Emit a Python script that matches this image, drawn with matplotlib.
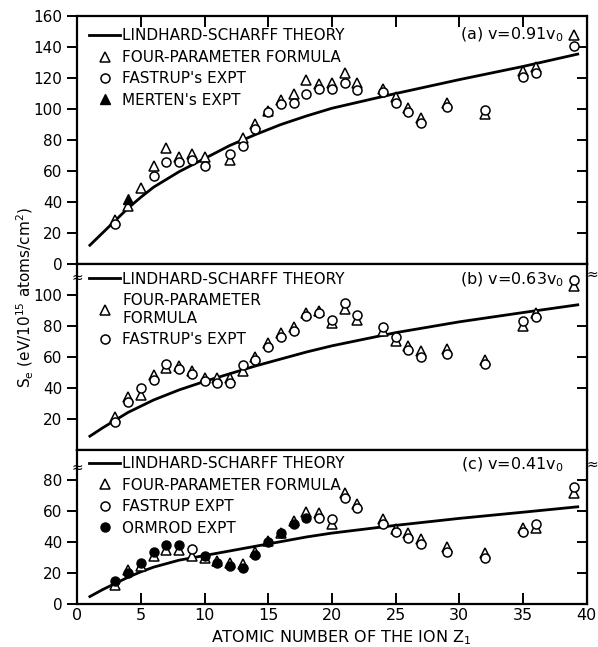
import matplotlib.pyplot as plt
import numpy as np

# ---- panel (a) v = 0.91 v0 ----
ls_z = [1, 2, 3, 4, 5, 6, 8, 10, 12, 14, 16, 18, 20, 25, 30, 35, 39.3]
ls_a = [12, 20, 28, 36, 43, 49.5, 59.5, 68, 76.5, 83.5, 90, 95.5, 100.5, 110, 119, 127.5, 135.5]

z_four_a = [3, 4, 5, 6, 7, 8, 9, 10, 12, 13, 14, 15, 16, 17, 18, 19, 20, 21, 22,
            24, 25, 26, 27, 29, 32, 35, 36, 39]
four_a = [28, 37.6, 49, 63, 75, 69, 71, 69, 67, 81, 90.5, 99, 106, 110, 118.5, 116,
          117, 123, 116.5, 113, 107.5, 100.5, 94, 104, 96.5, 124.5, 127, 147.6]
z_fast_a = [3, 6, 7, 8, 9, 10, 12, 13, 14, 15, 16, 17, 18, 19, 20, 21, 22, 24, 25,
            26, 27, 29, 32, 35, 36, 39]
fast_a = [26, 56.5, 66, 66, 67, 63.5, 71, 76, 87, 98, 103, 104, 110, 112.7, 113,
          117, 112, 111, 104, 98, 91, 101.5, 99.7, 120.5, 123, 141]
z_mert = [4]
mert = [42]

# ---- panel (b) v = 0.63 v0 ----
ls_b = [8.6, 14, 19, 24, 28, 32, 38.5, 44, 49, 54, 58.5, 63, 67, 75.5, 82.5, 88.5, 93.5]
z_b = [3, 4, 5, 6, 7, 8, 9, 10, 11, 12, 13, 14, 15, 16, 17, 18, 19, 20, 21, 22,
       24, 25, 26, 27, 29, 32, 35, 36, 39]
four_b = [21, 34, 35, 48, 52.5, 54, 51, 46.5, 46, 46, 50.5, 59.6, 68.7, 75, 79, 88,
          89.5, 81.6, 90.7, 83.5, 76.4, 70, 66.7, 63.5, 65, 58, 80, 88, 105.6]
fast_b = [18, 31, 39.5, 45, 55, 52, 49, 44, 43, 43, 54.4, 57.6, 66, 72.5, 76.4, 86,
          88, 84, 94.6, 86.8, 79, 72.5, 64, 60, 62, 55, 83, 85.5, 109.5]

# ---- panel (c) v = 0.41 v0 ----
ls_c = [5, 9.5, 13.5, 17.5, 21, 24, 28.5, 31.5, 34.5, 37.5, 40.5, 43.5, 46, 51, 55.5, 59.5, 63]
z_four_c = [3, 4, 5, 6, 7, 8, 9, 10, 11, 12, 13, 14, 15, 16, 17, 18, 19, 20, 21, 22,
            24, 25, 26, 27, 29, 32, 35, 36, 39]
four_c = [12.5, 22, 24.5, 31, 35, 35, 31.5, 29.7, 28, 27, 26, 34, 41, 46, 54, 59.4,
          58.7, 52, 72, 64.5, 54.8, 48.5, 46, 42, 37, 33, 49, 49, 72]
z_fast_c = [9, 19, 20, 21, 22, 24, 25, 26, 27, 29, 32, 35, 36, 39]
fast_c = [35.5, 55.5, 54.8, 68.4, 62, 51.6, 47, 43, 39, 34, 30, 46.4, 51.6, 75.5]
z_orm = [3, 4, 5, 6, 7, 8, 10, 11, 12, 13, 14, 15, 16, 17, 18]
orm = [15, 20, 27, 33.5, 38, 38, 31, 27, 25, 23.7, 31.6, 40, 46, 52, 55.5]

fig = plt.figure(figsize=(5.98, 6.47), dpi=100)
gs = fig.add_gridspec(3, 1, height_ratios=[160, 120, 100], hspace=0,
                      left=0.129, right=0.981, top=0.975, bottom=0.066)
axes = [fig.add_subplot(gs[i]) for i in range(3)]

mk = dict(linestyle='none', markersize=6.5, markeredgewidth=1.1, color='black')
tri = dict(marker='^', markerfacecolor='white', **mk)
circ = dict(marker='o', markerfacecolor='white', **mk)

ax_a, ax_b, ax_c = axes
ax_a.plot(ls_z, ls_a, color='black', lw=2, label='LINDHARD-SCHARFF THEORY')
ax_a.plot(z_four_a, four_a, label='FOUR-PARAMETER FORMULA', **tri)
ax_a.plot(z_fast_a, fast_a, label="FASTRUP's EXPT", **circ)
ax_a.plot(z_mert, mert, marker='^', linestyle='none', markersize=6.5, color='black',
          label="MERTEN's EXPT")

ax_b.plot(ls_z, ls_b, color='black', lw=2, label='LINDHARD-SCHARFF THEORY')
ax_b.plot(z_b, four_b, label='FOUR-PARAMETER\nFORMULA', **tri)
ax_b.plot(z_b, fast_b, label="FASTRUP's EXPT", **circ)

ax_c.plot(ls_z, ls_c, color='black', lw=2, label='LINDHARD-SCHARFF THEORY')
ax_c.plot(z_four_c, four_c, label='FOUR-PARAMETER FORMULA', **tri)
ax_c.plot(z_fast_c, fast_c, label='FASTRUP EXPT', **circ)
ax_c.plot(z_orm, orm, marker='o', linestyle='none', markersize=6.5, color='black',
          label='ORMROD EXPT')

ylims = [(0, 160), (0, 120), (0, 100)]
yticks = [np.arange(0, 161, 20), np.arange(20, 101, 20), np.arange(0, 81, 20)]
tags = [r'(a) v=0.91v$_0$', r'(b) v=0.63v$_0$', r'(c) v=0.41v$_0$']
leg_y = [0.975, 0.99, 0.995]
for ax, yl, yt, tag, ly in zip(axes, ylims, yticks, tags, leg_y):
    ax.set_xlim(0, 40)
    ax.set_ylim(*yl)
    ax.set_yticks(yt)
    for s in ax.spines.values():
        s.set_linewidth(1.6)
    ax.tick_params(axis='y', left=True, right=False, direction='out', length=7,
                   width=1.4, labelsize=11)
    ax.tick_params(axis='x', bottom=False, top=False, labelbottom=False)
    ax.text(0.955, 0.962, tag, transform=ax.transAxes,
            ha='right', va='top', fontsize=11.5)
    ax.legend(loc='upper left', frameon=False, fontsize=11, handlelength=2.0,
              handletextpad=0.15, labelspacing=0.42, borderaxespad=0,
              bbox_to_anchor=(0.012, ly))
    # right-side ticks drawn inward
    twin = ax.secondary_yaxis('right')
    twin.set_yticks(yt[1:] if ax is ax_c else yt[1:-1])
    twin.tick_params(direction='in', length=7, width=1.4, labelright=False)

ax_a.tick_params(axis='x', top=True, direction='in', length=8, width=1.4)
ax_a.set_xticks(np.arange(5, 40, 5))
ax_c.set_xticks(np.arange(0, 41, 5))
ax_c.tick_params(axis='x', bottom=True, labelbottom=True, direction='in', length=8,
                 width=1.4, labelsize=11.5, pad=3)

# axis break marks
for ax, yl, yr in [(ax_b, 111, 113), (ax_c, 88, 90)]:
    ax.text(0, yl, '≈', ha='center', va='center', fontsize=10,
            transform=ax.get_yaxis_transform(), clip_on=False)
    ax.text(1.012, yr, '≈', ha='center', va='center', fontsize=10,
            transform=ax.get_yaxis_transform(), clip_on=False)

fig.text(0.042, 0.54, r'S$_\mathrm{e}$ (eV/10$^{15}$ atoms/cm$^2$)', rotation=90,
         ha='center', va='center', fontsize=11)
fig.text(0.57, 0.014, r'ATOMIC NUMBER OF THE ION Z$_1$', ha='center', va='center',
         fontsize=11.5)

fig.savefig('out.png', dpi=100)
